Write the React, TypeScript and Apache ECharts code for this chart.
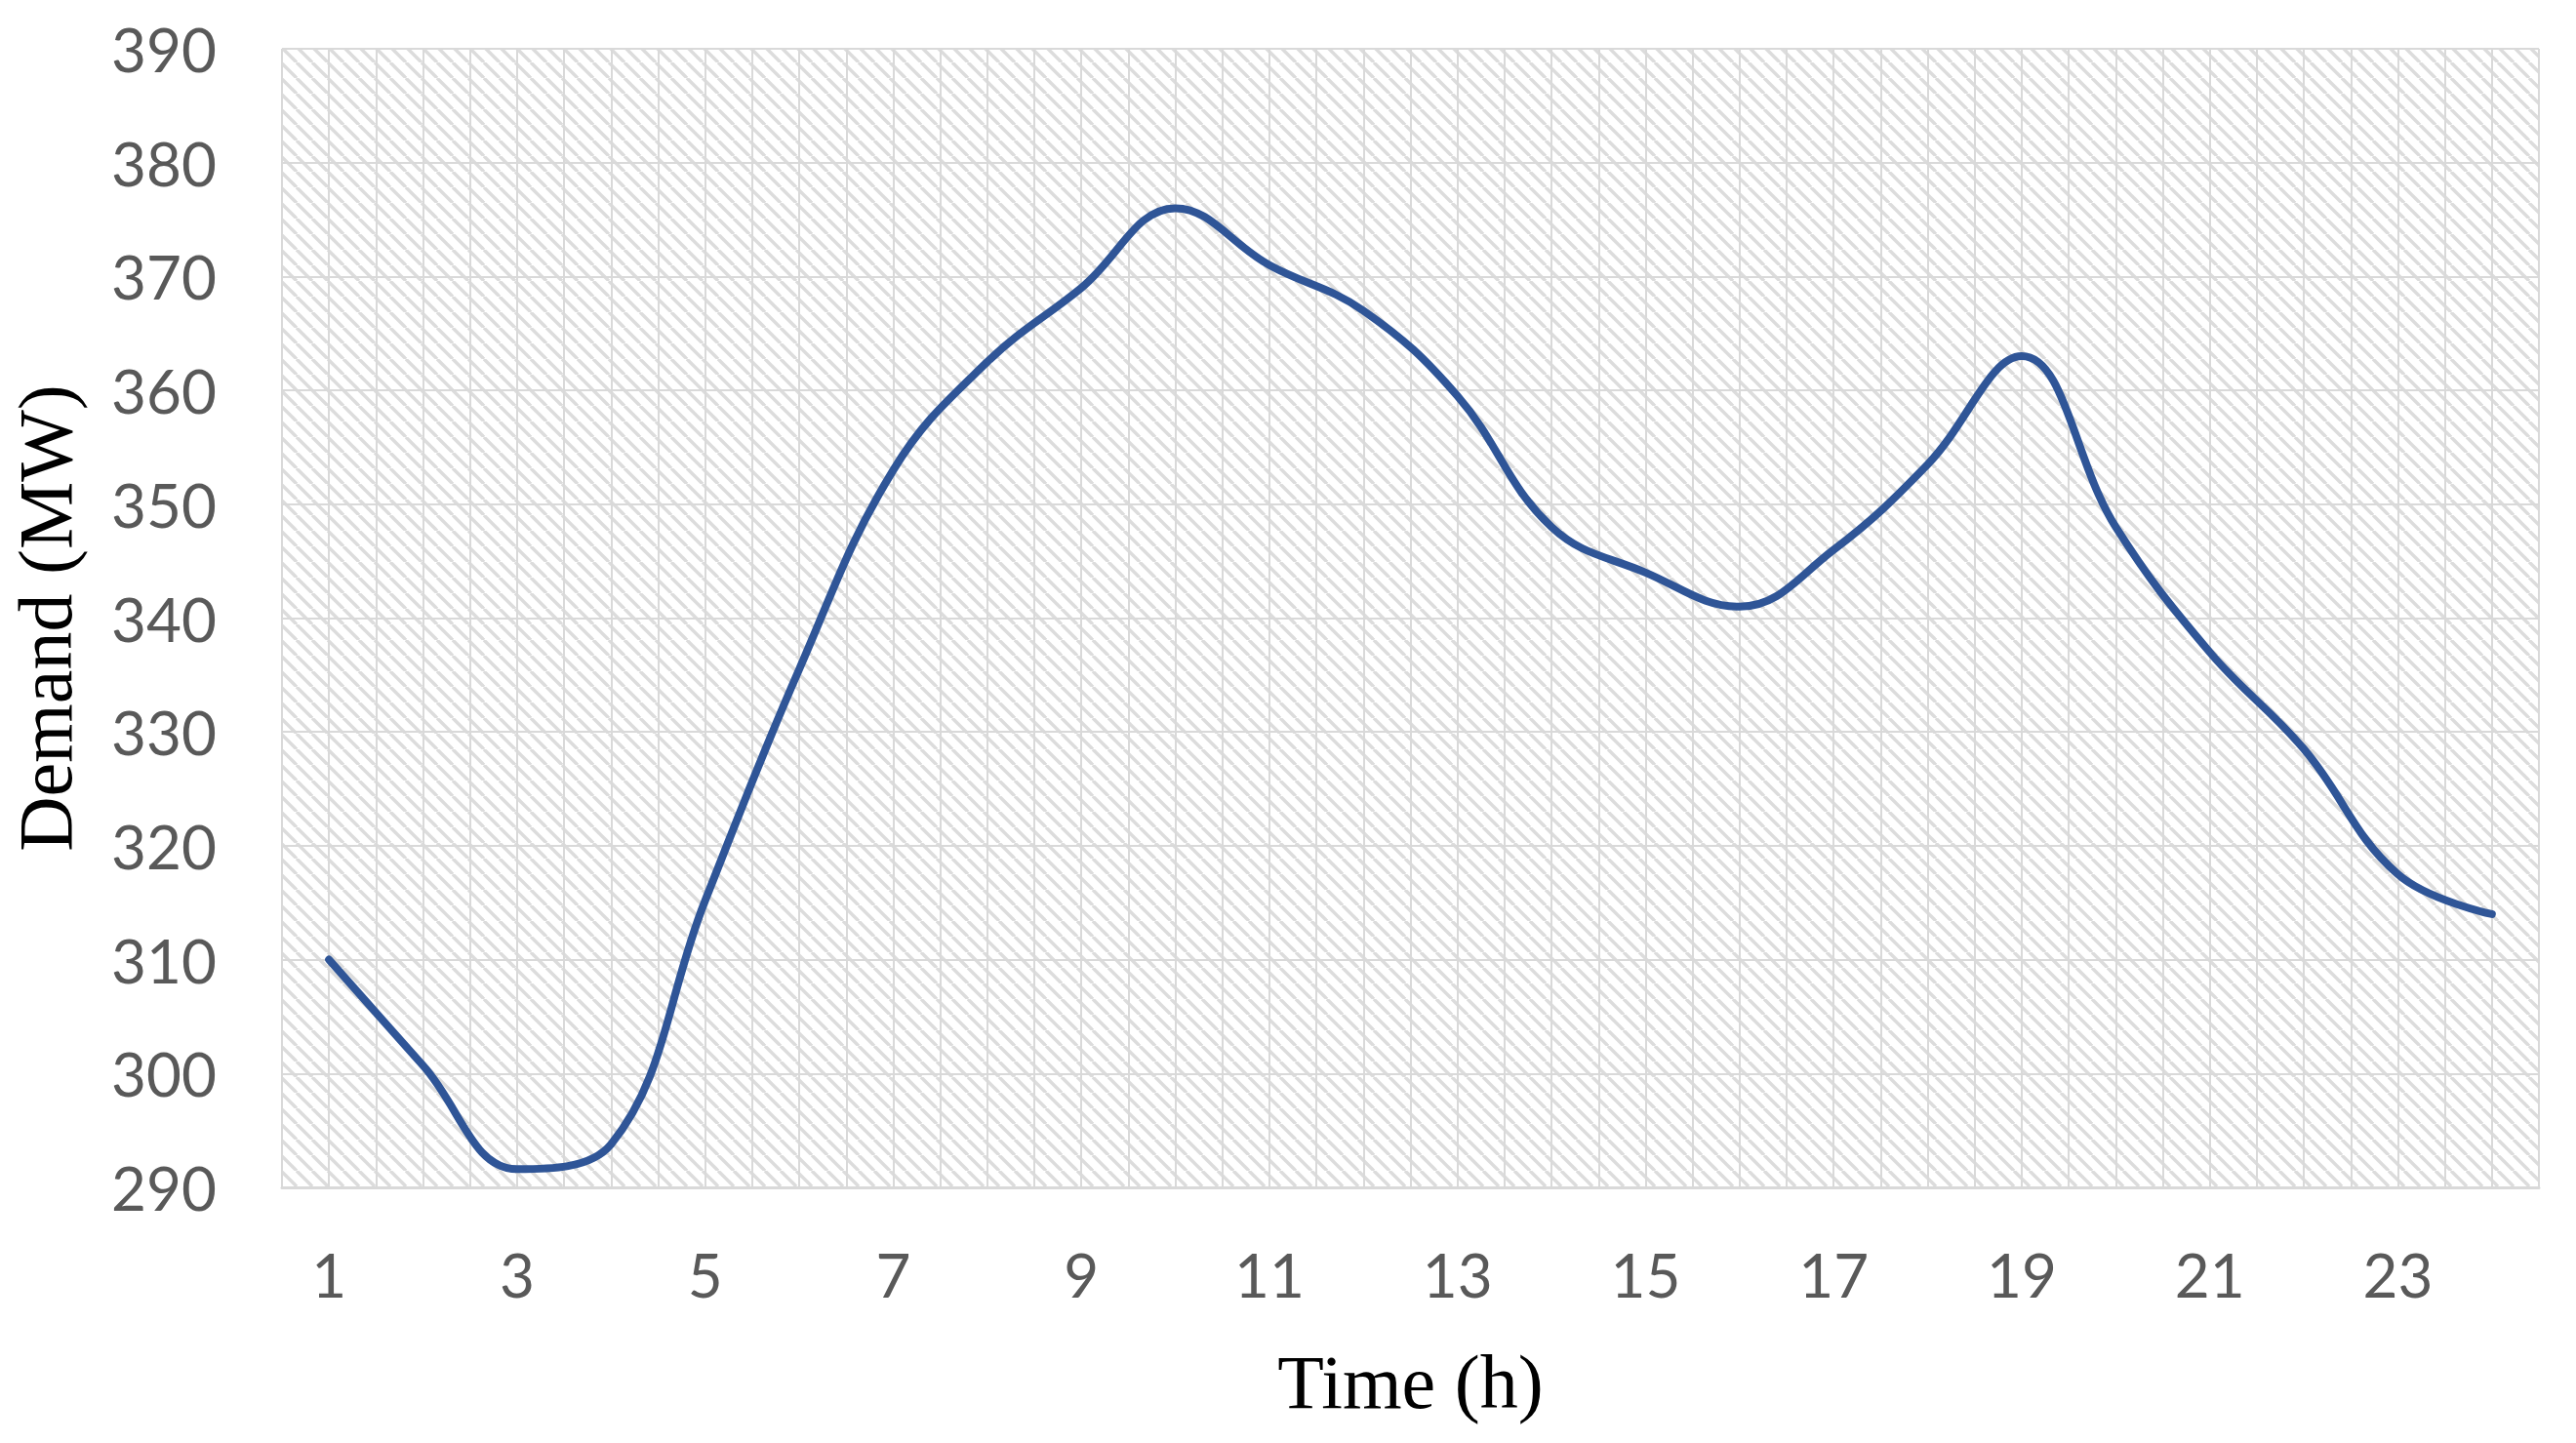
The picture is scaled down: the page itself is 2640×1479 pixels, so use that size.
import React, { useEffect, useRef } from 'react';
import * as echarts from 'echarts';

const hours = [1, 2, 3, 4, 5, 6, 7, 8, 9, 10, 11, 12, 13, 14, 15, 16, 17, 18, 19, 20, 21, 22, 23, 24];
const demandMW = [310, 300.7, 291.6, 293.8, 315.2, 335.5, 353, 362.5, 369, 376, 371, 367, 359.5, 348, 344, 341, 346, 353.5, 363, 348, 337, 328.5, 317.5, 314];
const xTickLabels = ['1', '3', '5', '7', '9', '11', '13', '15', '17', '19', '21', '23'];
const yMin = 290;
const yMax = 390;
const yStep = 10;
const xAxisTitle = 'Time (h)';
const yAxisTitle = 'Demand (MW)';

const HATCH = 16;

function makeHatch(): string {
  const c = document.createElement('canvas');
  c.width = HATCH;
  c.height = HATCH;
  const ctx = c.getContext('2d');
  if (!ctx) return '';
  ctx.fillStyle = '#ffffff';
  ctx.fillRect(0, 0, HATCH, HATCH);
  ctx.strokeStyle = '#dcdcdc';
  ctx.lineWidth = 3.4;
  for (const o of [-HATCH, 0, HATCH]) {
    ctx.beginPath();
    ctx.moveTo(o, 0);
    ctx.lineTo(o + HATCH, HATCH);
    ctx.stroke();
  }
  return c.toDataURL();
}

export default function App() {
  const ref = useRef<HTMLDivElement>(null);

  useEffect(() => {
    document.body.style.margin = '0';
    if (!ref.current) return;
    const chart = echarts.init(ref.current, undefined, { renderer: 'svg' });
    const hatch = makeHatch();
    const gridColor = '#d9d9d9';
    chart.setOption({
      animation: false,
      backgroundColor: '#ffffff',
      grid: {
        left: 289,
        right: 38,
        top: 50,
        bottom: 262,
        containLabel: false,
        outerBoundsMode: 'none',
        show: true,
        borderWidth: 0,
        backgroundColor: {
          image: hatch,
          repeat: 'repeat',
          imageWidth: HATCH,
          imageHeight: HATCH,
        },
      },
      xAxis: {
        type: 'value',
        min: 0.5,
        max: 24.5,
        interval: 0.5,
        name: xAxisTitle,
        nameLocation: 'middle',
        nameGap: 160,
        nameTextStyle: { fontFamily: 'Liberation Serif', fontSize: 78, color: '#000000' },
        axisLine: { show: true, lineStyle: { color: gridColor, width: 3 } },
        axisTick: { show: false },
        axisLabel: {
          fontFamily: 'Lato',
          fontSize: 62,
          color: '#595959',
          margin: 58,
          formatter: (v: number) => {
            const s = String(Math.round(v * 100) / 100);
            return xTickLabels.includes(s) ? s : '';
          },
        },
        splitLine: { show: true, lineStyle: { color: gridColor, width: 2 } },
      },
      yAxis: {
        type: 'value',
        min: yMin,
        max: yMax,
        interval: yStep,
        name: yAxisTitle,
        nameLocation: 'middle',
        nameRotate: 90,
        nameGap: 204,
        nameTextStyle: { fontFamily: 'Liberation Serif', fontSize: 78, color: '#000000' },
        axisLine: { show: false },
        axisTick: { show: false },
        axisLabel: { fontFamily: 'Lato', fontSize: 62, color: '#595959', margin: 67 },
        splitLine: { show: true, lineStyle: { color: gridColor, width: 2 } },
      },
      series: [
        {
          type: 'line',
          data: hours.map((h, i) => [h, demandMW[i]]),
          smooth: 0.4,
          showSymbol: false,
          lineStyle: { color: '#2F5597', width: 8, cap: 'round', join: 'round' },
        },
      ],
    });
    return () => chart.dispose();
  }, []);

  return (
    <div
      ref={ref}
      style={{ position: 'fixed', left: 0, top: 0, width: 2640, height: 1479, background: '#fff' }}
    />
  );
}
